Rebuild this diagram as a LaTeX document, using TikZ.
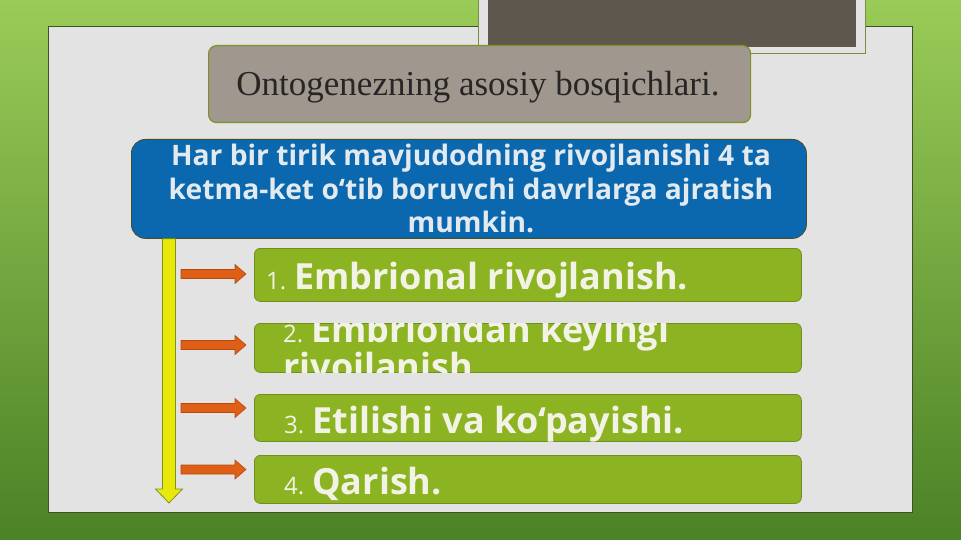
\documentclass[tikz,border=0pt]{standalone}
\usepackage{fontspec}
\setmainfont{Liberation Serif}
\newfontfamily\osans{Open Sans}
\usetikzlibrary{arrows.meta,calc}
\definecolor{bgtop}{HTML}{9ACB58}
\definecolor{bgbot}{HTML}{4C8226}
\definecolor{panel}{HTML}{E3E3E3}
\definecolor{panelline}{HTML}{3F4F2C}
\definecolor{darkframe}{HTML}{5E574E}
\definecolor{titlefill}{HTML}{A0978E}
\definecolor{olive}{HTML}{7F9126}
\definecolor{blueb}{HTML}{0C68AE}
\definecolor{greenb}{HTML}{8CB321}
\definecolor{greenline}{HTML}{6F9020}
\definecolor{cream}{HTML}{F2F3E6}
\definecolor{bluetxt}{HTML}{E2EAF0}
\definecolor{orng}{HTML}{DF5F16}
\definecolor{orngline}{HTML}{B44A10}
\definecolor{yel}{HTML}{E8E80A}
\tikzset{
  stagebox/.style={draw=greenline, line width=0.8pt, fill=greenb, rounded corners=6pt,
    minimum width=547pt, inner sep=0pt, anchor=north west},
  stagetext/.style={text=cream, anchor=base west, inner sep=0pt, font=\osans},
}
\newcommand\stnum[1]{{\fontsize{24}{28}\selectfont #1\hspace{8pt}}}
% block arrow from start coordinate #1 towards the west side of node #2
\newcommand\orangearrowto[2]{%
  \draw[draw=orngline, fill=orng, line width=0.6pt]
    ($(#1)+(0,-4.5)$) -- ($(#1 -| #2.west)+(-19,-4.5)$) -- ($(#1 -| #2.west)+(-19,-9.5)$)
    -- ($(#1 -| #2.west)+(-8,0)$) -- ($(#1 -| #2.west)+(-19,9.5)$) -- ($(#1 -| #2.west)+(-19,4.5)$)
    -- ($(#1)+(0,4.5)$) -- cycle;}
\begin{document}
\begin{tikzpicture}[x=1pt,y=-1pt]
\useasboundingbox (0,0) rectangle (961,540);
\shade[top color=bgtop, bottom color=bgbot] (0,0) rectangle (961,540);
% panel
\node[draw=panelline, line width=0.8pt, fill=panel, minimum width=864pt, minimum height=486pt,
  inner sep=0pt, anchor=north west] (panel) at (48,26) {};
% top frame
\node[draw=olive!60!gray, line width=0.6pt, fill=panel, minimum width=387pt, minimum height=55pt,
  inner sep=0pt, anchor=north west] (frame) at (478,-2) {};
\node[fill=darkframe, minimum width=368pt, minimum height=49pt, inner sep=0pt,
  anchor=north west] (photo) at (488,-2) {};
% title
\node[draw=olive, line width=1.2pt, fill=titlefill, rounded corners=8pt, minimum width=542pt,
  minimum height=77pt, inner sep=0pt, anchor=north west] (title) at (208,45) {};
\node[anchor=base, inner sep=0pt, font=\fontsize{35}{40}\selectfont, text=black!85]
  (titletext) at (478,96) {Ontogenezning asosiy bosqichlari.};
% blue box
\node[draw=panelline, line width=0.8pt, fill=blueb, rounded corners=14pt, minimum width=675pt,
  minimum height=99pt, inner sep=0pt, anchor=north west] (blue) at (131,139) {};
\node[align=center, text=bluetxt, font=\osans\bfseries\fontsize{28.2}{33.5}\selectfont, inner sep=0pt,
  anchor=base] (bluetext) at (471,233)
  {Har bir tirik mavjudodning rivojlanishi 4 ta\\ketma-ket o‘tib boruvchi davrlarga ajratish\\mumkin.};
% stage boxes
\node[stagebox, minimum height=53pt] (b1) at (254,248) {};
\node[stagebox, minimum height=49pt] (b2) at (254,323) {};
\node[stagebox, minimum height=47pt] (b3) at (254,394) {};
\node[stagebox, minimum height=48pt] (b4) at (254,455) {};
\node[stagetext] (t1) at (266,289) {\stnum{1.}\fontsize{36}{40}\bfseries Embrional rivojlanish.};
\begin{scope}
  \clip[rounded corners=6pt] (b2.north west) rectangle (b2.south east);
  \node[stagetext, align=left, font=\osans\fontsize{36}{37}\selectfont] (t2) at (283,379)
    {\stnum{2.}\bfseries Embriondan keyingi\\\bfseries rivojlanish.};
\end{scope}
\node[stagetext] (t3) at (284,433) {\stnum{3.}\fontsize{36}{40}\bfseries Etilishi va ko‘payishi.};
\node[stagetext] (t4) at (284,494) {\stnum{4.}\fontsize{36}{40}\bfseries Qarish.};
% yellow arrow
\coordinate (ytop) at (blue.south -| 169,0);
\coordinate (ybot) at (169,503);
\draw[draw=olive, fill=yel, line width=0.8pt]
  ($(ytop)+(-6.5,0)$) -- ($(ybot)+(-6.5,-14)$) -- ($(ybot)+(-13.5,-14)$) -- (ybot)
  -- ($(ybot)+(13.5,-14)$) -- ($(ybot)+(6.5,-14)$) -- ($(ytop)+(6.5,0)$) -- cycle;
% orange arrows
\coordinate (s1) at (181,274);
\coordinate (s2) at (181,345);
\coordinate (s3) at (181,408);
\coordinate (s4) at (181,469.5);
\orangearrowto{s1}{b1}
\orangearrowto{s2}{b2}
\orangearrowto{s3}{b3}
\orangearrowto{s4}{b4}
\end{tikzpicture}
\end{document}
